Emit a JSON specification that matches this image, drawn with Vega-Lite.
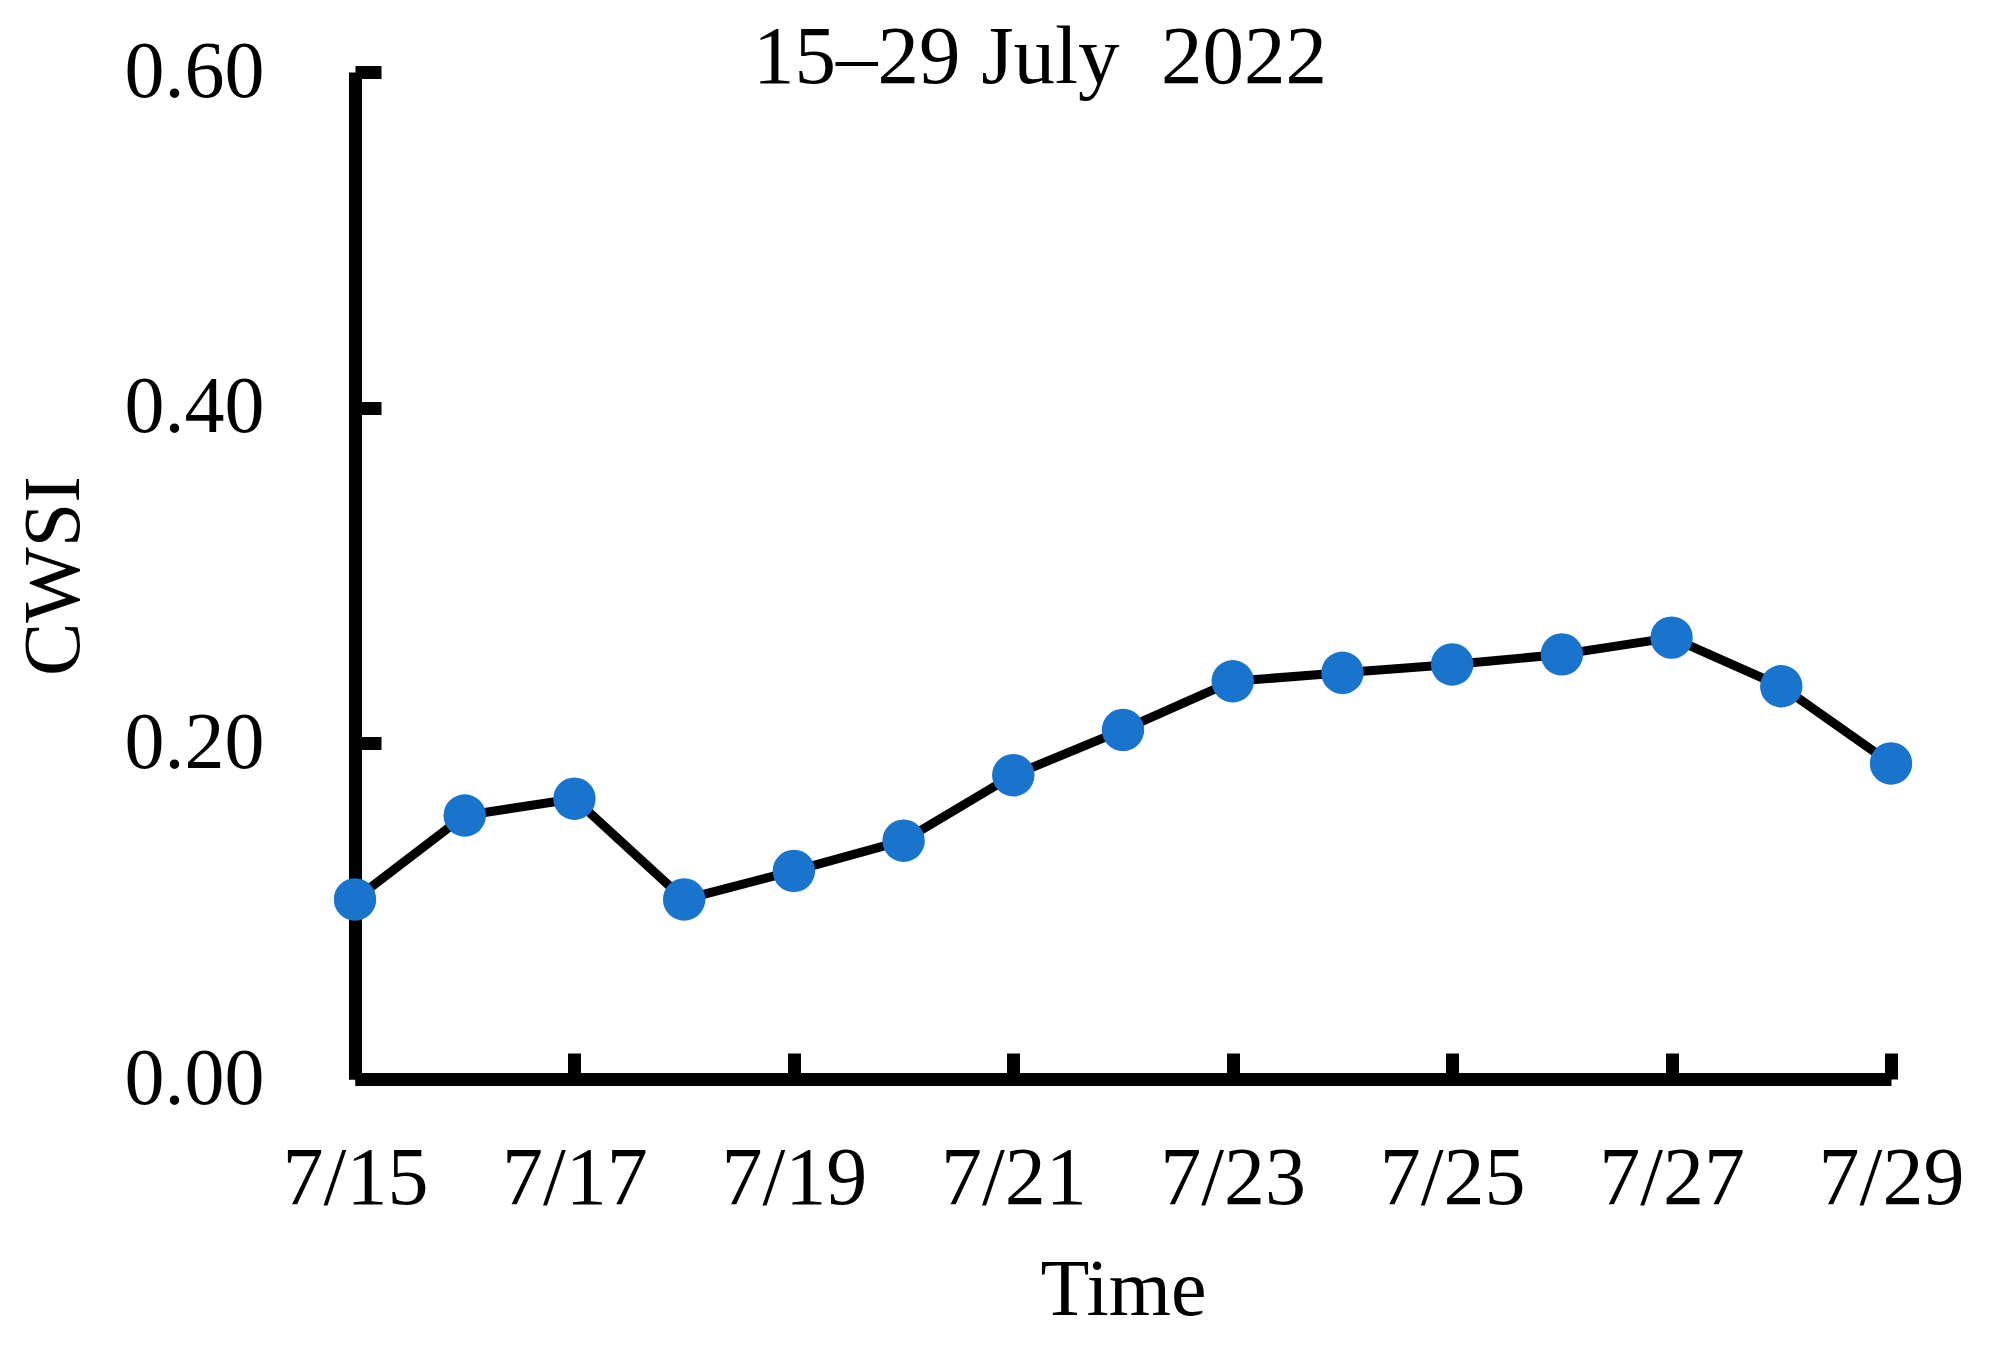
{
  "$schema": "https://vega.github.io/schema/vega-lite/v6.json",
  "autosize": "none",
  "width": 1536,
  "height": 1007,
  "padding": {"left": 355, "top": 72, "right": 100, "bottom": 274},
  "background": "white",
  "title": {
    "text": "15–29 July\u00a0 2022",
    "font": "Liberation Serif",
    "fontSize": 83,
    "fontWeight": "normal",
    "color": "black",
    "anchor": "start",
    "frame": "group",
    "dx": 398,
    "baseline": "alphabetic",
    "offset": 0,
    "dy": 134
  },
  "data": {
    "values": [
      {"date": "7/15", "day": 15, "cwsi": 0.107},
      {"date": "7/16", "day": 16, "cwsi": 0.157},
      {"date": "7/17", "day": 17, "cwsi": 0.167},
      {"date": "7/18", "day": 18, "cwsi": 0.107},
      {"date": "7/19", "day": 19, "cwsi": 0.124},
      {"date": "7/20", "day": 20, "cwsi": 0.142},
      {"date": "7/21", "day": 21, "cwsi": 0.181},
      {"date": "7/22", "day": 22, "cwsi": 0.208},
      {"date": "7/23", "day": 23, "cwsi": 0.237},
      {"date": "7/24", "day": 24, "cwsi": 0.242},
      {"date": "7/25", "day": 25, "cwsi": 0.247},
      {"date": "7/26", "day": 26, "cwsi": 0.253},
      {"date": "7/27", "day": 27, "cwsi": 0.263},
      {"date": "7/28", "day": 28, "cwsi": 0.234},
      {"date": "7/29", "day": 29, "cwsi": 0.188}
    ]
  },
  "encoding": {
    "x": {
      "field": "day",
      "type": "quantitative",
      "scale": {"domain": [15, 29], "nice": false, "zero": false},
      "axis": {
        "title": "Time",
        "values": [15, 17, 19, 21, 23, 25, 27, 29],
        "labelExpr": "'7/' + datum.value",
        "grid": false,
        "domainColor": "black",
        "domainWidth": 13,
        "domainCap": "butt",
        "tickColor": "black",
        "tickWidth": 13,
        "tickSize": -26,
        "labelFont": "Liberation Serif",
        "labelFontSize": 82,
        "labelColor": "black",
        "labelPadding": 85,
        "labelFlush": false,
        "labelOverlap": false,
        "titleFont": "Liberation Serif",
        "titleFontSize": 80,
        "titleFontWeight": "normal",
        "titleColor": "black",
        "titlePadding": 32
      }
    },
    "y": {
      "field": "cwsi",
      "type": "quantitative",
      "scale": {"domain": [0, 0.6], "nice": false},
      "axis": {
        "title": "CWSI",
        "values": [0, 0.2, 0.4, 0.6],
        "format": ".2f",
        "grid": false,
        "domainColor": "black",
        "domainWidth": 13,
        "domainCap": "butt",
        "tickColor": "black",
        "tickWidth": 13,
        "tickSize": -26,
        "labelFont": "Liberation Serif",
        "labelFontSize": 80,
        "labelColor": "black",
        "labelPadding": 117,
        "labelFlush": false,
        "labelOverlap": false,
        "labelBaseline": "middle",
        "titleFont": "Liberation Serif",
        "titleFontSize": 80,
        "titleFontWeight": "normal",
        "titleColor": "black",
        "titlePadding": 60
      }
    }
  },
  "layer": [
    {
      "mark": {"type": "line", "color": "black", "strokeWidth": 9, "clip": false}
    },
    {
      "mark": {"type": "point", "filled": true, "shape": "circle", "size": 1800, "color": "#1874CD", "opacity": 1, "clip": false}
    }
  ],
  "config": {
    "view": {"stroke": null}
  }
}
